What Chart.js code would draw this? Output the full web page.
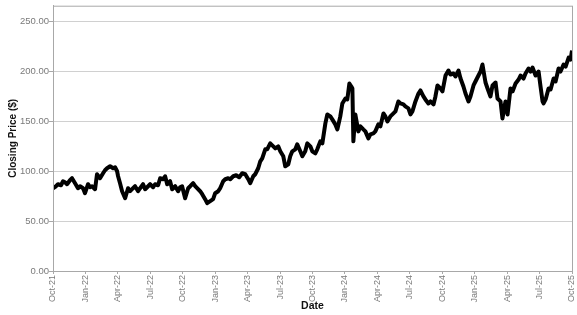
<!DOCTYPE html>
<html>
<head>
<meta charset="utf-8">
<script src="https://cdn.jsdelivr.net/npm/chart.js@4"></script>
<style>
  body { margin: 0; background: #fff; }
  #wrap { width: 577px; height: 315px; }
</style>
</head>
<body>
<div id="wrap"><canvas id="chart" width="577" height="315"></canvas></div>
<script>
// x positions are months since Oct-21
const tickLabels = ['Oct-21', 'Jan-22', 'Apr-22', 'Jul-22', 'Oct-22', 'Jan-23', 'Apr-23', 'Jul-23', 'Oct-23',
  'Jan-24', 'Apr-24', 'Jul-24', 'Oct-24', 'Jan-25', 'Apr-25', 'Jul-25', 'Oct-25'];

const months = [
  0, 0.28, 0.46, 0.74, 0.93, 1.11, 1.30, 1.57, 1.76, 2.04, 2.31, 2.50, 2.78, 2.96, 3.24, 3.43, 3.61, 3.89,
  4.07, 4.35, 4.63, 4.81, 5.00, 5.28, 5.56, 5.74, 5.93, 6.02, 6.20, 6.39, 6.67, 6.94, 7.13, 7.31, 7.59, 7.87,
  8.06, 8.33, 8.52, 8.80, 8.98, 9.26, 9.44, 9.72, 9.91, 10.19, 10.37, 10.56, 10.83, 11.02, 11.30, 11.57, 11.76, 11.94,
  12.22, 12.50, 12.69, 12.96, 13.15, 13.33, 13.61, 13.80, 14.07, 14.26, 14.54, 14.81, 15.00, 15.28, 15.46, 15.74, 15.93,
  16.20, 16.39, 16.67, 16.94, 17.22, 17.50, 17.78, 18.06, 18.24, 18.52, 18.70, 18.98, 19.17, 19.35, 19.63, 19.81,
  20.09, 20.28, 20.56, 20.83, 21.02, 21.30, 21.48, 21.76, 21.94, 22.13, 22.41, 22.59, 22.87, 23.06, 23.33, 23.52, 23.80, 23.98,
  24.26, 24.44, 24.72, 24.91, 25.19, 25.37, 25.65, 25.83, 26.11, 26.30, 26.57, 26.76, 27.04, 27.22, 27.41, 27.59, 27.69, 27.78, 27.96,
  28.24, 28.43, 28.70, 28.89, 29.17, 29.35, 29.63, 29.81, 30.09, 30.28, 30.56, 30.74, 30.93, 31.20, 31.39, 31.67, 31.94,
  32.13, 32.41, 32.59, 32.87, 33.06, 33.24, 33.52, 33.80, 33.98, 34.26, 34.44, 34.72, 34.91, 35.19, 35.37, 35.56, 35.83,
  36.02, 36.30, 36.57, 36.76, 37.04, 37.22, 37.50, 37.69, 37.96, 38.15, 38.43, 38.61, 38.89, 39.07, 39.35, 39.54, 39.72,
  40.00, 40.19, 40.46, 40.65, 40.93, 41.11, 41.39, 41.57, 41.76, 41.85, 42.04, 42.31, 42.50, 42.78, 43.06, 43.24, 43.52, 43.70, 43.98,
  44.17, 44.35, 44.63, 44.91, 45.09, 45.28, 45.37, 45.56, 45.83, 46.02, 46.30, 46.48, 46.76, 46.94, 47.22, 47.41, 47.69, 47.87, 48.0
];

const closingPrice = [
  83, 85, 87, 86, 90, 89, 87, 91, 93, 88, 83, 85, 83, 78, 87, 84, 85, 82,
  97, 93, 98, 101, 103, 105, 103, 104, 100, 95, 88, 80, 73, 83, 80, 82, 85, 80,
  83, 87, 82, 85, 87, 84, 87, 86, 93, 92, 95, 87, 90, 82, 85, 80, 84, 85,
  73, 83, 85, 88, 85, 83, 80, 77, 72, 68, 70, 72, 78, 80, 83, 90, 92,
  93, 92, 95, 96, 94, 98, 97, 92, 88, 95, 97, 103, 110, 113, 122, 122,
  128, 126, 123, 125, 120, 115, 105, 107, 115, 120, 122, 127, 120, 115, 120, 128, 125, 120,
  118, 122, 130, 128, 148, 157, 155, 152, 147, 142, 155, 168, 173, 172, 188, 185, 183, 130, 157,
  140, 145, 142, 140, 133, 137, 138, 140, 147, 145, 158, 155, 150, 155, 157, 160, 170,
  168, 167, 165, 163, 157, 160, 170, 178, 181, 175, 172, 168, 170, 167, 175, 186, 183,
  180, 196, 201, 197, 198, 195, 201, 193, 185, 178, 170, 175, 186, 190, 196, 200, 207,
  189, 183, 175, 186, 189, 173, 170, 153, 165, 170, 157, 183, 180, 188, 192, 196, 193, 198, 203,
  200, 204, 196, 200, 185, 170, 168, 172, 183, 182, 193, 190, 203, 200, 207, 205, 214, 212, 221
];

const yTicks = [0, 50, 100, 150, 200, 250];

const points = months.map((m, i) => ({ x: m, y: closingPrice[i] }));

const framePlugin = {
  id: 'frame',
  afterDraw(chart) {
    const { ctx, chartArea } = chart;
    ctx.save();
    ctx.strokeStyle = '#a8a8a8';
    ctx.lineWidth = 1;
    ctx.strokeRect(chartArea.left + 0.5, chartArea.top + 0.5, chartArea.right - chartArea.left, chartArea.bottom - chartArea.top);
    ctx.restore();
  },
};

const chartElem = document.querySelector('#chart');
new Chart(chartElem, {
  type: 'line',
  data: {
    datasets: [
      {
        data: points,
        borderColor: '#000',
        borderWidth: 4,
        borderJoinStyle: 'round',
        pointRadius: 0,
        tension: 0,
        fill: false,
      },
    ],
  },
  options: {
    responsive: false,
    animation: false,
    layout: { padding: { top: 3, right: 5, left: 0, bottom: 0 } },
    plugins: { legend: { display: false }, tooltip: { enabled: false } },
    scales: {
      x: {
        type: 'linear',
        min: 0,
        max: 48,
        afterFit: (scale) => {
          scale.height = 44;
          scale.paddingLeft = 0;
          scale.paddingRight = 0;
        },
        afterBuildTicks: (scale) => {
          scale.ticks = tickLabels.map((_, i) => ({ value: i * 3 }));
        },
        ticks: {
          autoSkip: false,
          maxRotation: 90,
          minRotation: 90,
          padding: 1,
          color: '#7a7a7a',
          font: { family: 'Liberation Sans, Arial', size: 9 },
          callback: (v) => tickLabels[Math.round(v / 3)],
        },
        grid: { display: true, drawOnChartArea: false, tickLength: 3, tickColor: '#a8a8a8' },
        border: { color: '#a8a8a8' },
        title: {
          display: true,
          text: 'Date',
          color: '#111',
          font: { family: 'Liberation Sans, Arial', size: 10.5, weight: 'bold' },
          padding: { top: 0, bottom: 3 },
        },
      },
      y: {
        min: 0,
        max: 266,
        afterFit: (scale) => { scale.width = 53; },
        afterBuildTicks: (scale) => {
          scale.ticks = yTicks.map((v) => ({ value: v }));
        },
        ticks: {
          padding: 0,
          color: '#7a7a7a',
          font: { family: 'Liberation Sans, Arial', size: 9.5 },
          callback: (v) => v.toFixed(2),
        },
        grid: { color: '#d0d0d0', tickLength: 4, tickColor: '#a8a8a8' },
        border: { color: '#a8a8a8' },
        title: {
          display: true,
          text: 'Closing Price ($)',
          color: '#111',
          font: { family: 'Liberation Sans, Arial', size: 10, weight: 'bold' },
          padding: { top: 7, bottom: 2 },
        },
      },
    },
  },
  plugins: [framePlugin],
});
</script>
</body>
</html>
